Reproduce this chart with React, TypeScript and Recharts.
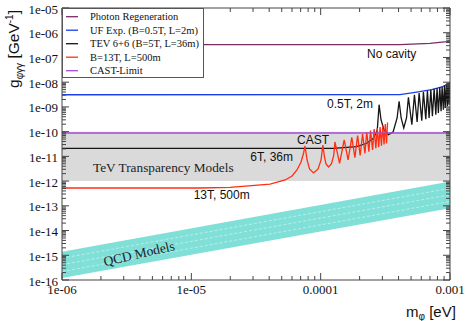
import { ComposedChart, Line, Area, XAxis, YAxis, ReferenceArea } from 'recharts'

// axion mass [eV] and coupling [GeV^-1]
const photonM = [1e-6, 4.1e-4, 7.0e-4, 9.45e-4, 1e-3]
const photonG = [3.3e-7, 3.3e-7, 3.74e-7, 4.34e-7, 4.63e-7]

const ufM = [1e-6, 4.1e-4, 5.37e-4, 7.23e-4, 8.65e-4, 1e-3]
const ufG = [3.1e-9, 3.15e-9, 3.9e-9, 4.97e-9, 6.39e-9, 9.28e-9]

const tevM = [
  1e-6, 1.25e-4, 1.9e-4, 2.27e-4, 2.56e-4, 2.74e-4, 2.83e-4, 2.93e-4, 3.09e-4, 3.34e-4,
  3.63e-4, 3.9e-4, 4.04e-4, 4.19e-4, 4.39e-4, 4.61e-4, 4.77e-4, 5.07e-4, 5.31e-4, 5.57e-4,
  5.77e-4, 6.05e-4, 6.23e-4, 6.5e-4, 6.69e-4, 6.89e-4, 7.11e-4, 7.31e-4, 7.54e-4, 7.77e-4,
  7.94e-4, 8.13e-4, 8.34e-4, 8.53e-4, 8.69e-4, 8.89e-4, 9.06e-4, 9.21e-4, 9.38e-4, 9.55e-4,
  9.66e-4, 9.84e-4, 9.96e-4,
]
const tevG = [
  2.1e-11, 2.1e-11, 2.46e-11, 3.38e-11, 5.38e-11, 1.17e-10, 1.23e-9, 2.96e-10, 1.17e-10, 7.53e-11,
  9.68e-11, 3.57e-10, 1.69e-9, 3.57e-10, 1.41e-10, 3.57e-10, 2.45e-9, 1.91e-10, 3.12e-9, 2.45e-10,
  3.66e-9, 2.77e-10, 4.01e-9, 3.16e-10, 4.53e-9, 3.57e-10, 4.97e-9, 4.18e-10, 5.46e-9, 4.85e-10,
  5.82e-9, 5.68e-10, 6.21e-9, 6.65e-10, 6.57e-9, 7.73e-10, 7.48e-9, 9.04e-10, 8.45e-9, 1.06e-9,
  9.27e-9, 1.23e-9, 1.02e-8,
]

const bigM = [
  1e-6, 1.17e-5, 1.99e-5, 4.06e-5, 5.31e-5, 6.01e-5, 6.56e-5, 7.05e-5, 7.38e-5, 7.57e-5,
  7.85e-5, 8.2e-5, 8.81e-5, 9.55e-5, 1.007e-4, 1.04e-4, 1.07e-4, 1.1e-4, 1.15e-4, 1.21e-4,
  1.26e-4, 1.29e-4, 1.4e-4, 1.52e-4, 1.63e-4, 1.74e-4, 1.84e-4, 1.93e-4, 2.02e-4, 2.11e-4,
  2.2e-4, 2.27e-4, 2.36e-4, 2.43e-4, 2.52e-4, 2.59e-4, 2.67e-4, 2.74e-4, 2.81e-4, 2.88e-4,
  2.95e-4, 3.02e-4, 3.09e-4, 3.16e-4, 3.23e-4, 3.29e-4,
]
const bigG = [
  5.26e-13, 5.26e-13, 5.6e-13, 7.5e-13, 1.11e-12, 1.61e-12, 2.81e-12, 5.93e-12, 1.37e-11, 2.63e-11,
  7.14e-12, 3.09e-12, 2.13e-12, 3.09e-12, 7.14e-12, 2.89e-11, 9.44e-12, 4.92e-12, 3.72e-12, 4.92e-12,
  1.04e-11, 3.82e-11, 5.25e-12, 4.59e-11, 7.14e-12, 5.81e-11, 8.85e-12, 6.99e-11, 1.09e-11, 8.03e-11,
  1.31e-11, 9.68e-11, 1.55e-11, 1.11e-10, 1.81e-11, 1.28e-10, 2.12e-11, 1.41e-10, 2.39e-11, 1.54e-10,
  2.7e-11, 1.77e-10, 3.02e-11, 2.04e-10, 3.32e-11, 2.34e-10,
]

const castM = [1e-6, 1e-3]
const castG = [8.8e-11, 8.8e-11]

const qcdM = [1e-6, 1e-3]
const qcdHi = [1.4e-15, 9.6e-13]
const qcdLo = [1.2e-16, 8.0e-14]
const qcdDash1 = [7.6e-16, 5.1e-13]
const qcdDash2 = [4.2e-16, 2.8e-13]
const qcdDash3 = [2.2e-16, 1.5e-13]

const tevBand = [1e-12, 1e-10]

const xMajor = [1e-6, 1e-5, 1e-4, 1e-3]
const xLabels = ['1e-06', '1e-05', '0.0001', '0.001']
const yMajor = [1e-16, 1e-15, 1e-14, 1e-13, 1e-12, 1e-11, 1e-10, 1e-9, 1e-8, 1e-7, 1e-6, 1e-5]
const yLabels = ['1e-16', '1e-15', '1e-14', '1e-13', '1e-12', '1e-11', '1e-10', '1e-09', '1e-08', '1e-07', '1e-06', '1e-05']
const minorSteps = [2, 3, 4, 5, 6, 7, 8, 9]

const xTicks = [...xMajor, ...xMajor.slice(0, -1).flatMap((d) => minorSteps.map((k) => d * k))]
const yTicks = [...yMajor, ...yMajor.slice(0, -1).flatMap((d) => minorSteps.map((k) => d * k))]

const zip = (m: number[], g: number[]) => m.map((v, i) => ({ m: v, g: g[i] }))
const qcdData = qcdM.map((m, i) => ({ m, band: [qcdLo[i], qcdHi[i]] }))

const series = [
  { name: 'Photon Regeneration', color: '#7a2d63', data: zip(photonM, photonG) },
  { name: 'UF Exp. (B=0.5T, L=2m)', color: '#1a3ee8', data: zip(ufM, ufG) },
  { name: 'TEV 6+6 (B=5T, L=36m)', color: '#151515', data: zip(tevM, tevG) },
  { name: 'B=13T, L=500m', color: '#ff2e12', data: zip(bigM, bigG) },
  { name: 'CAST-Limit', color: '#a34bd6', data: zip(castM, castG) },
]

const serif = 'Liberation Serif, Times New Roman, serif'
const sans = 'Liberation Sans, Arial, sans-serif'
const frame = '#444'

function BottomTick({ x, y, payload }: any) {
  const i = xMajor.indexOf(payload.value)
  return (
    <g>
      <line x1={x} x2={x} y1={y} y2={y - (i >= 0 ? 7 : 4)} stroke={frame} />
      {i >= 0 && (
        <text x={x} y={y + 14} textAnchor="middle" fontFamily={serif} fontSize={13} fill="#111">
          {xLabels[i]}
        </text>
      )}
    </g>
  )
}

function TopTick({ x, y, payload }: any) {
  const major = xMajor.includes(payload.value)
  return <line x1={x} x2={x} y1={y} y2={y + (major ? 7 : 4)} stroke={frame} />
}

function LeftTick({ x, y, payload }: any) {
  const i = yMajor.indexOf(payload.value)
  return (
    <g>
      <line x1={x} x2={x + (i >= 0 ? 7 : 4)} y1={y} y2={y} stroke={frame} />
      {i >= 0 && (
        <text x={x - 4} y={y + 5.5} textAnchor="end" fontFamily={serif} fontSize={13} fill="#111">
          {yLabels[i]}
        </text>
      )}
    </g>
  )
}

function RightTick({ x, y, payload }: any) {
  const major = yMajor.includes(payload.value)
  return <line x1={x} x2={x - (major ? 7 : 4)} y1={y} y2={y} stroke={frame} />
}

// texts and the legend box sit in an svg laid over the chart
function Overlay() {
  return (
    <svg width={467} height={321} style={{ position: 'absolute', left: 0, top: 0, pointerEvents: 'none' }}>
      <g fontFamily={sans} fontSize={12} fill="#111" textAnchor="middle">
        <text x={391.7} y={57.5}>No cavity</text>
        <text x={350} y={108}>0.5T, 2m</text>
        <text x={313} y={144}>CAST</text>
        <text x={271.7} y={161}>6T, 36m</text>
        <text x={221.7} y={199}>13T, 500m</text>
      </g>
      <text x={163.3} y={172} textAnchor="middle" fontFamily={serif} fontSize={13.3} fill="#222">
        TeV Transparency Models
      </text>
      <text
        x={139}
        y={253.5}
        dy="0.35em"
        textAnchor="middle"
        fontFamily={serif}
        fontSize={13.5}
        fill="#222"
        transform="rotate(-13 139 253.5)"
      >
        QCD Models
      </text>

      <text x={19} y={49} textAnchor="middle" fontFamily={sans} fontSize={15.5} fill="#111" transform="rotate(-90 19 49)">
        <tspan>g</tspan>
        <tspan fontSize={10} dy={4}>φγγ</tspan>
        <tspan dy={-4}> [GeV</tspan>
        <tspan fontSize={10} dy={-6}>-1</tspan>
        <tspan dy={6}>]</tspan>
      </text>
      <text x={406} y={317} fontFamily={sans} fontSize={15} fill="#111">
        <tspan>m</tspan>
        <tspan fontSize={10} dy={3}>φ</tspan>
        <tspan dy={-3}> [eV]</tspan>
      </text>

      <rect x={62.5} y={8.5} width={141} height={69} fill="#fff" stroke="#555" />
      {series.map((s, i) => (
        <g key={s.name}>
          <line x1={66} x2={78} y1={16.7 + i * 13.5} y2={16.7 + i * 13.5} stroke={s.color} strokeWidth={1.3} />
          <text x={90} y={20.4 + i * 13.5} fontFamily={serif} fontSize={10.5} fill="#111">
            {s.name}
          </text>
        </g>
      ))}
    </svg>
  )
}

export default function App() {
  return (
    <div style={{ position: 'absolute', left: 0, top: 0, width: 467, height: 321, background: '#fff' }}>
      <ComposedChart width={467} height={321} margin={{ top: 7, right: 16, bottom: 11, left: 2 }}>
        <XAxis
          dataKey="m"
          type="number"
          scale="log"
          domain={[1e-6, 1e-3]}
          allowDataOverflow
          ticks={xTicks}
          interval={0}
          tick={<BottomTick />}
          tickLine={false}
          tickSize={0}
          tickMargin={0}
          height={30}
          axisLine={{ stroke: frame }}
        />
        <XAxis
          xAxisId="top"
          orientation="top"
          dataKey="m"
          type="number"
          scale="log"
          domain={[1e-6, 1e-3]}
          allowDataOverflow
          ticks={xTicks}
          interval={0}
          tick={<TopTick />}
          tickLine={false}
          tickSize={0}
          tickMargin={0}
          height={1}
          axisLine={{ stroke: frame }}
        />
        <YAxis
          type="number"
          scale="log"
          domain={[1e-16, 1e-5]}
          allowDataOverflow
          ticks={yTicks}
          interval={0}
          tick={<LeftTick />}
          tickLine={false}
          tickSize={0}
          tickMargin={0}
          width={60}
          axisLine={{ stroke: frame }}
        />
        <YAxis
          yAxisId="right"
          orientation="right"
          type="number"
          scale="log"
          domain={[1e-16, 1e-5]}
          allowDataOverflow
          ticks={yTicks}
          interval={0}
          tick={<RightTick />}
          tickLine={false}
          tickSize={0}
          tickMargin={0}
          width={1}
          axisLine={{ stroke: frame }}
        />

        <ReferenceArea x1={1e-6} x2={1e-3} y1={tevBand[0]} y2={tevBand[1]} fill="#dadada" fillOpacity={1} stroke="none" />

        <Area data={qcdData} dataKey="band" stroke="none" fill="#80e0d8" fillOpacity={1} isAnimationActive={false} legendType="none" />
        {[qcdDash1, qcdDash2, qcdDash3].map((d, i) => (
          <Line
            key={i}
            data={zip(qcdM, d)}
            dataKey="g"
            stroke="#ffffff"
            strokeOpacity={0.55}
            strokeWidth={0.8}
            strokeDasharray="3 2"
            dot={false}
            isAnimationActive={false}
            legendType="none"
          />
        ))}

        {series.map((s) => (
          <Line
            key={s.name}
            name={s.name}
            data={s.data}
            dataKey="g"
            stroke={s.color}
            strokeWidth={1.3}
            dot={false}
            isAnimationActive={false}
          />
        ))}
      </ComposedChart>
      <Overlay />
    </div>
  )
}
